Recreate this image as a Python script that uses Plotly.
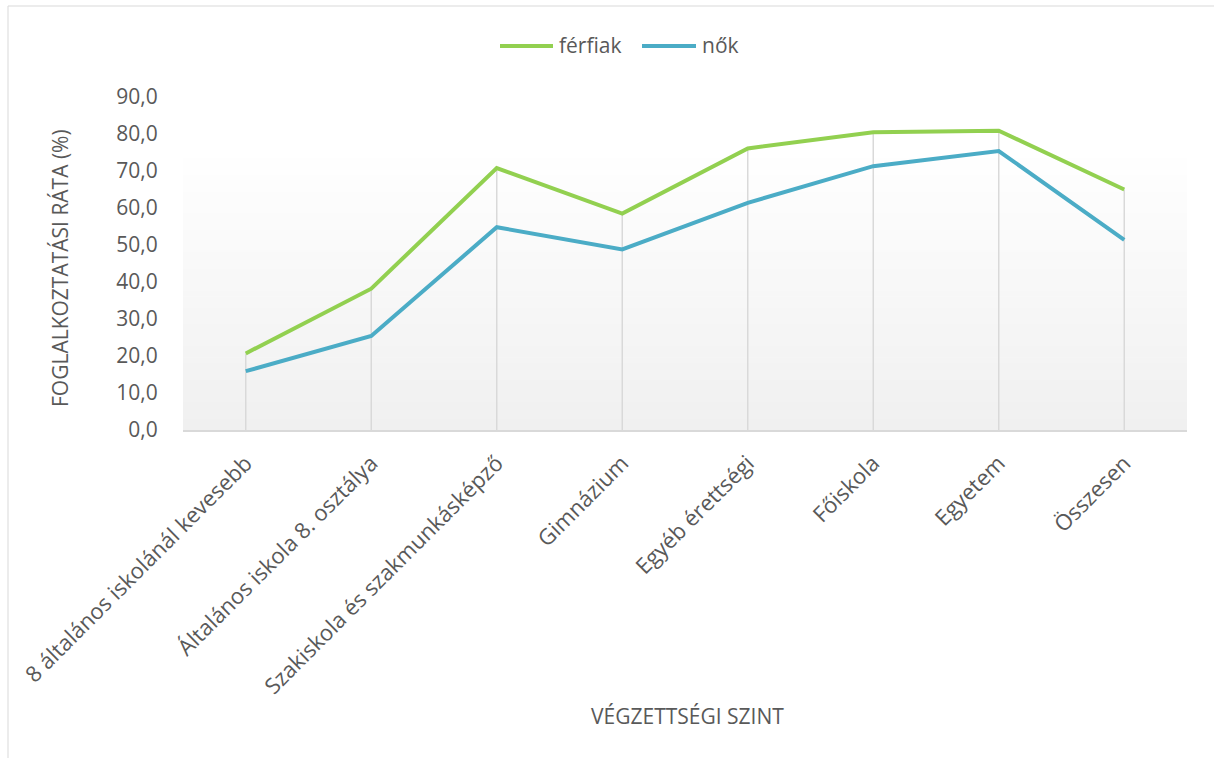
import plotly.graph_objects as go

categories = [
    "8 általános iskolánál kevesebb",
    "Általános iskola 8. osztálya",
    "Szakiskola és szakmunkásképző",
    "Gimnázium",
    "Egyéb érettségi",
    "Főiskola",
    "Egyetem",
    "Összesen",
]
ferfiak = [20.7, 38.2, 70.8, 58.5, 76.1, 80.5, 80.9, 65.0]
nok = [15.9, 25.4, 54.8, 48.8, 61.4, 71.3, 75.4, 51.4]
series_names = ["férfiak", "nők"]
y_ticks = [0, 10, 20, 30, 40, 50, 60, 70, 80, 90]

GREEN = "#92D050"
BLUE = "#4BACC6"
TEXT = "#595959"
GRID = "#D9D9D9"
FONT = "Open Sans"
FS = 21

W, H = 1214, 758
L, R, T, B = 183, 1214 - 1187, 97, 758 - 430
pw, ph = W - L - R, H - T - B

def px(x):
    return (x - L) / pw

def py(y):
    return (H - B - y) / ph

fig = go.Figure()

# drop lines from axis up to the higher of the two series
dx, dy = [], []
for c, a, b in zip(categories, ferfiak, nok):
    dx += [c, c, None]
    dy += [0, max(a, b), None]
fig.add_trace(go.Scatter(x=dx, y=dy, mode="lines", line=dict(color=GRID, width=1.5),
                         showlegend=False, hoverinfo="skip"))

fig.add_trace(go.Scatter(x=categories, y=ferfiak, name=series_names[0], mode="lines",
                         line=dict(color=GREEN, width=4), showlegend=False))
fig.add_trace(go.Scatter(x=categories, y=nok, name=series_names[1], mode="lines",
                         line=dict(color=BLUE, width=4), showlegend=False))

# gradient background in plot area
shapes = []
n = 60
def mix(t):
    top = (255, 255, 255)
    bot = (240, 240, 240)
    tt = min(1.0, t / 0.85)
    return "rgb(%d,%d,%d)" % tuple(round(bot[i] + (top[i] - bot[i]) * tt) for i in range(3))
for i in range(n):
    y0 = i / n
    y1 = (i + 1) / n
    shapes.append(dict(type="rect", xref="x domain", yref="y domain", x0=0, x1=1,
                       y0=y0, y1=y1 + 0.002, fillcolor=mix((i + 0.5) / n),
                       line=dict(width=0), layer="below"))
# chart border (cropped)
shapes.append(dict(type="rect", xref="paper", yref="paper",
                   x0=px(8), x1=px(W + 20), y0=py(H + 20), y1=py(6),
                   line=dict(color=GRID, width=1), fillcolor="rgba(0,0,0,0)", layer="below"))

# custom legend
legend_items = [(series_names[0], GREEN, 500, 553, 557), (series_names[1], BLUE, 642, 696, 700)]
annotations = []
for name, col, x0, x1, xt in legend_items:
    shapes.append(dict(type="line", xref="paper", yref="paper", x0=px(x0), x1=px(x1),
                       y0=py(46), y1=py(46), line=dict(color=col, width=4)))
    annotations.append(dict(text=name, xref="paper", yref="paper", x=px(xt), y=py(45),
                            xanchor="left", yanchor="middle", showarrow=False,
                            font=dict(family=FONT, size=FS, color=TEXT)))

annotations += [
    dict(text="FOGLALKOZTATÁSI RÁTA (%)", xref="paper", yref="paper",
         x=px(60), y=py(268), textangle=-90, showarrow=False,
         xanchor="center", yanchor="middle", font=dict(family=FONT, size=FS, color=TEXT)),
    dict(text="VÉGZETTSÉGI SZINT", xref="paper", yref="paper",
         x=px(687), y=py(716), showarrow=False,
         xanchor="center", yanchor="middle", font=dict(family=FONT, size=FS, color=TEXT)),
]

fig.update_layout(
    width=W, height=H,
    margin=dict(l=L, r=R, t=T, b=B, autoexpand=False),
    paper_bgcolor="white",
    plot_bgcolor="rgba(0,0,0,0)",
    separators=", ",
    font=dict(family=FONT, size=FS, color=TEXT),
    shapes=shapes,
    annotations=annotations,
    showlegend=False,
)

fig.update_xaxes(type="category", range=[-0.5, len(categories) - 0.5], showgrid=False,
                 showline=True, linecolor=GRID, linewidth=1.5, zeroline=False,
                 tickangle=-45, ticks="outside", ticklen=10, tickcolor="rgba(0,0,0,0)",
                 tickfont=dict(family=FONT, size=22, color=TEXT))
fig.update_yaxes(range=[0, 90], tickvals=y_ticks, tickformat=".1f", showgrid=False,
                 showline=False, zeroline=False, ticks="outside", ticklen=20,
                 tickcolor="rgba(0,0,0,0)", tickfont=dict(family=FONT, size=FS, color=TEXT))

fig.write_html("out.html")
